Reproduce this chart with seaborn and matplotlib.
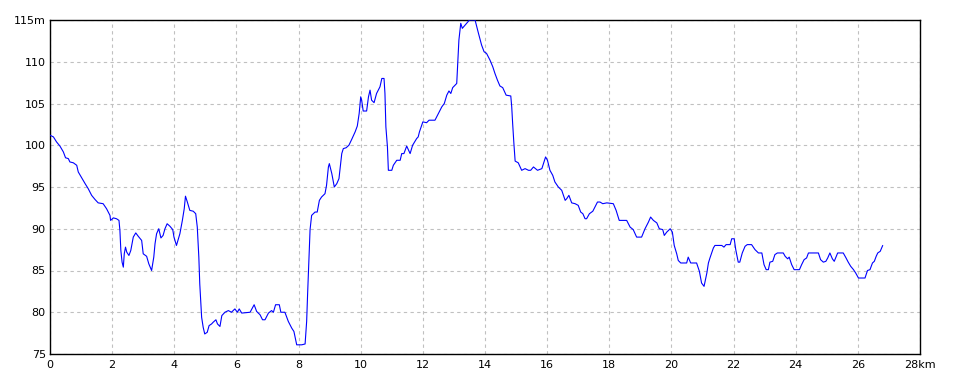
import numpy as np
import pandas as pd
import matplotlib
matplotlib.use("Agg")
import matplotlib.pyplot as plt
import seaborn as sns

distance_km = [
    0.00, 0.11, 0.21, 0.32, 0.43, 0.50, 0.59, 0.64, 0.75, 0.86, 0.91, 1.02, 1.13, 1.23, 1.34, 1.45,
    1.55, 1.71, 1.82, 1.93, 1.95, 2.04, 2.14, 2.22, 2.25, 2.28, 2.32, 2.36, 2.39, 2.43, 2.47, 2.54,
    2.60, 2.68, 2.76, 2.84, 2.95, 3.00, 3.11, 3.18, 3.27, 3.34, 3.38, 3.43, 3.50, 3.57, 3.64, 3.70,
    3.77, 3.86, 3.95, 3.99, 4.07, 4.18, 4.26, 4.32, 4.36, 4.42, 4.50, 4.61, 4.69, 4.74, 4.79, 4.82,
    4.88, 4.93, 4.98, 5.06, 5.12, 5.20, 5.25, 5.34, 5.39, 5.47, 5.53, 5.63, 5.74, 5.84, 5.95, 6.03,
    6.09, 6.17, 6.44, 6.57, 6.65, 6.76, 6.84, 6.92, 7.03, 7.13, 7.19, 7.26, 7.38, 7.43, 7.56, 7.67,
    7.78, 7.85, 7.94, 8.10, 8.21, 8.26, 8.29, 8.34, 8.37, 8.42, 8.53, 8.60, 8.67, 8.74, 8.85, 8.90,
    8.96, 8.99, 9.07, 9.15, 9.23, 9.30, 9.33, 9.39, 9.44, 9.53, 9.62, 9.71, 9.82, 9.89, 9.95, 10.00,
    10.03, 10.08, 10.19, 10.25, 10.30, 10.35, 10.43, 10.51, 10.62, 10.68, 10.75, 10.78, 10.81, 10.86,
    10.89, 11.00, 11.05, 11.16, 11.27, 11.32, 11.39, 11.48, 11.59, 11.67, 11.80, 11.85, 11.89, 12.00,
    12.12, 12.20, 12.39, 12.50, 12.61, 12.69, 12.77, 12.84, 12.90, 12.96, 13.09, 13.12, 13.16, 13.22,
    13.27, 13.41, 13.50, 13.68, 13.79, 13.89, 13.97, 14.05, 14.16, 14.25, 14.32, 14.40, 14.48, 14.57,
    14.68, 14.83, 14.86, 14.89, 14.93, 14.97, 15.07, 15.18, 15.29, 15.40, 15.47, 15.56, 15.69, 15.83,
    15.88, 15.95, 16.01, 16.09, 16.18, 16.25, 16.36, 16.47, 16.58, 16.63, 16.70, 16.79, 16.90, 17.00,
    17.08, 17.15, 17.22, 17.27, 17.36, 17.47, 17.54, 17.62, 17.70, 17.79, 17.92, 18.13, 18.22, 18.32,
    18.56, 18.67, 18.77, 18.88, 19.04, 19.15, 19.26, 19.33, 19.42, 19.53, 19.61, 19.72, 19.77, 19.85,
    19.96, 20.03, 20.09, 20.17, 20.22, 20.30, 20.49, 20.54, 20.62, 20.81, 20.90, 20.97, 21.05, 21.14,
    21.19, 21.24, 21.35, 21.40, 21.62, 21.69, 21.76, 21.89, 21.94, 22.02, 22.07, 22.15, 22.20, 22.28,
    22.37, 22.44, 22.58, 22.69, 22.80, 22.91, 22.98, 23.05, 23.12, 23.17, 23.26, 23.33, 23.41, 23.60,
    23.66, 23.74, 23.79, 23.87, 23.95, 24.12, 24.19, 24.27, 24.35, 24.41, 24.73, 24.80, 24.89, 24.97,
    25.03, 25.10, 25.18, 25.24, 25.35, 25.53, 25.62, 25.69, 25.77, 25.86, 25.93, 26.02, 26.09, 26.23,
    26.31, 26.39, 26.47, 26.53, 26.59, 26.64, 26.72, 26.80,
]

elevation_m = [
    101.2, 101.0, 100.4, 99.9, 99.2, 98.5, 98.4, 98.0, 97.9, 97.6, 96.8, 96.1, 95.4, 94.8, 94.0, 93.5,
    93.1, 93.0, 92.4, 91.6, 91.0, 91.3, 91.2, 91.0, 89.8, 87.4, 86.0, 85.4, 87.0, 87.8, 87.2, 86.8,
    87.4, 89.0, 89.5, 89.1, 88.6, 87.0, 86.7, 85.8, 85.0, 86.6, 88.2, 89.4, 90.0, 88.9, 89.2, 90.0,
    90.6, 90.3, 89.9, 89.0, 88.0, 89.4, 91.0, 92.4, 93.9, 93.2, 92.2, 92.1, 91.8, 90.2, 86.6, 83.4,
    79.4, 78.2, 77.4, 77.6, 78.4, 78.6, 78.8, 79.1, 78.6, 78.3, 79.6, 80.0, 80.2, 80.0, 80.4, 80.0,
    80.4, 79.9, 80.0, 80.9, 80.1, 79.7, 79.1, 79.1, 79.9, 80.2, 80.0, 80.9, 80.9, 80.0, 80.0, 78.9,
    78.1, 77.7, 76.1, 76.1, 76.2, 78.9, 82.1, 86.9, 89.9, 91.6, 92.0, 92.0, 93.4, 93.8, 94.2, 95.2,
    97.4, 97.8, 96.6, 95.0, 95.4, 96.0, 97.0, 99.0, 99.6, 99.7, 100.0, 100.7, 101.6, 102.3, 103.8, 105.8,
    105.4, 104.1, 104.1, 105.8, 106.6, 105.4, 105.1, 106.2, 107.0, 108.0, 108.0, 106.2, 102.2, 99.8,
    97.0, 97.0, 97.6, 98.2, 98.2, 99.0, 99.0, 99.9, 99.0, 100.0, 100.8, 101.0, 101.6, 102.8,
    102.7, 103.0, 103.0, 103.8, 104.6, 105.0, 106.0, 106.5, 106.2, 106.9, 107.4, 109.6, 112.6, 114.6,
    114.0, 114.6, 115.0, 115.0, 113.4, 112.0, 111.2, 111.0, 110.2, 109.4, 108.6, 107.8, 107.1, 106.9,
    106.0, 105.9, 104.6, 102.6, 100.2, 98.1, 97.9, 97.0, 97.2, 97.0, 97.0, 97.4, 97.0, 97.2,
    97.8, 98.6, 98.2, 97.0, 96.4, 95.6, 95.0, 94.6, 93.4, 93.6, 94.0, 93.1, 93.0, 92.8,
    92.0, 91.8, 91.2, 91.2, 91.8, 92.1, 92.6, 93.2, 93.2, 93.0, 93.1, 93.0, 92.2, 91.0,
    91.0, 90.2, 89.9, 89.0, 89.0, 90.0, 90.8, 91.4, 91.0, 90.7, 90.0, 89.9, 89.2, 89.6,
    90.0, 89.6, 88.0, 87.0, 86.2, 85.9, 85.9, 86.6, 85.9, 85.9, 84.9, 83.5, 83.1, 84.7,
    85.9, 86.5, 87.7, 88.0, 88.0, 87.8, 88.1, 88.1, 88.8, 88.8, 87.5, 86.0, 86.0, 87.1,
    87.9, 88.1, 88.1, 87.5, 87.1, 87.1, 85.7, 85.1, 85.1, 86.0, 86.1, 86.9, 87.1, 87.1,
    86.7, 86.4, 86.6, 85.7, 85.1, 85.1, 85.7, 86.3, 86.5, 87.1, 87.1, 86.3, 86.0, 86.1,
    86.5, 87.1, 86.4, 86.1, 87.1, 87.1, 86.5, 86.0, 85.5, 85.1, 84.7, 84.1, 84.1, 84.1,
    85.0, 85.1, 85.9, 86.1, 86.7, 87.1, 87.3, 88.0,
]

x_ticks = list(range(0, 29, 2))
x_tick_labels = [str(v) for v in range(0, 28, 2)] + ["28km"]
y_ticks = list(range(75, 116, 5))
y_tick_labels = [str(v) for v in range(75, 115, 5)] + ["115m"]

df = pd.DataFrame({"distance": distance_km, "elevation": elevation_m})

sns.set_theme(style="white")
plt.rcParams["font.family"] = ["DejaVu Sans"]

fig = plt.figure(figsize=(9.6, 3.84), dpi=100)
ax = fig.add_axes([50 / 960, 1 - 354 / 384, 870 / 960, 334 / 384])

sns.lineplot(data=df, x="distance", y="elevation", ax=ax, color="#0000ff",
             linewidth=0.8, sort=False, estimator=None, zorder=3)

ax.set_xlim(0, 28)
ax.set_ylim(75, 115)
ax.set_xticks(x_ticks)
ax.set_xticklabels(x_tick_labels)
ax.set_yticks(y_ticks)
ax.set_yticklabels(y_tick_labels)
ax.set_xlabel("")
ax.set_ylabel("")
ax.tick_params(axis="both", length=0, labelsize=8, colors="black")
ax.tick_params(axis="x", pad=4)
ax.tick_params(axis="y", pad=3)
ax.grid(True, color="#c0c0c0", linestyle=(0, (3, 3)), linewidth=0.8)
for s in ax.spines.values():
    s.set_visible(True)
    s.set_color("black")
    s.set_linewidth(1.0)

fig.savefig("out.png", dpi=100)
